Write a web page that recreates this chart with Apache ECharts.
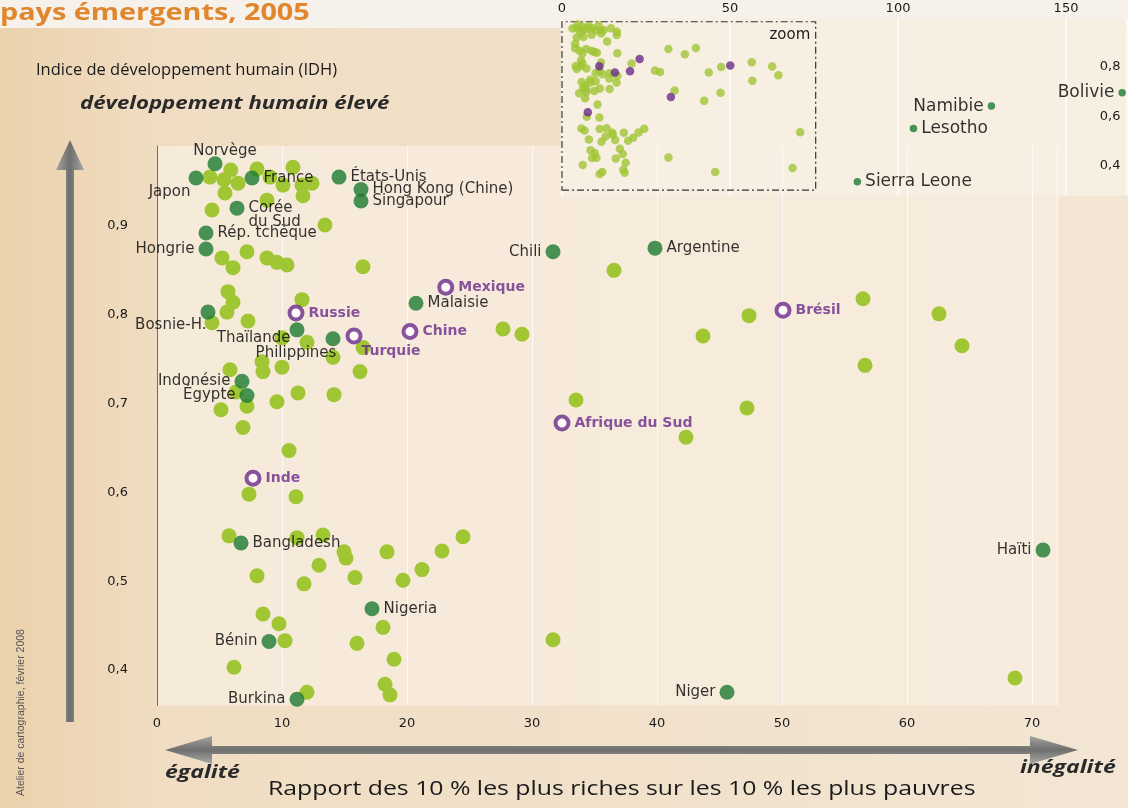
<!DOCTYPE html>
<html><head><meta charset="utf-8">
<script src="https://cdn.jsdelivr.net/npm/echarts@6/dist/echarts.min.js"></script>
<style>html,body{margin:0;padding:0;background:#efdcc0;}#c{width:1128px;height:808px;}</style>
</head><body><div id="c"></div>
<script>
// ---------- DATA ----------
const xTicks = [0, 10, 20, 30, 40, 50, 60, 70];
const yTicks = [0.4, 0.5, 0.6, 0.7, 0.8, 0.9];
const insetXTicks = [0, 50, 100, 150];
const insetYTicks = [0.4, 0.6, 0.8];

// unlabeled countries (light green)
const lightX = [4.24,5.36,6.48,8.0,9.04,10.08,10.88,11.6,12.4,5.44,8.8,11.68,4.4,13.44,5.9,
  5.2,6.08,7.2,8.8,9.6,10.4,16.48,5.68,6.08,5.6,11.6,7.28,4.4,10.0,12.0,16.48,14.08,8.4,10.0,5.84,16.24,8.48,
  36.56,56.48,47.36,62.56,43.68,64.4,56.64,33.52,47.2,42.32,27.68,29.2,
  6.32,11.28,14.16,9.6,7.2,5.12,6.88,10.56,7.36,11.12,5.76,11.2,13.28,14.96,15.12,18.4,22.8,24.48,
  12.96,21.2,8.0,15.84,11.76,19.68,8.48,9.76,18.08,10.24,16.0,31.68,6.16,18.96,12.0,18.24,18.64,68.64];
const lightY = [0.955,0.952,0.948,0.964,0.955,0.946,0.966,0.946,0.948,0.937,0.929,0.934,0.918,0.901,0.963,
  0.864,0.853,0.871,0.864,0.859,0.856,0.854,0.826,0.814,0.803,0.817,0.793,0.791,0.774,0.769,0.763,0.752,0.747,0.741,0.738,0.736,0.736,
  0.850,0.818,0.799,0.801,0.776,0.765,0.743,0.704,0.695,0.662,0.784,0.778,
  0.713,0.712,0.710,0.702,0.697,0.693,0.673,0.647,0.598,0.595,0.551,0.549,0.552,0.533,0.526,0.533,0.534,0.550,
  0.518,0.513,0.506,0.504,0.497,0.501,0.463,0.452,0.448,0.433,0.430,0.434,0.403,0.412,0.375,0.384,0.372,0.391];

// named countries (dark green)
const darkNames = ['Norvège','Japon','France','États-Unis','Hong Kong (Chine)','Singapour','Corée du Sud',
  'Rép. tchèque','Hongrie','Chili','Argentine','Malaisie','Bosnie-H.','Thaïlande','Philippines',
  'Indonésie','Égypte','Bangladesh','Nigeria','Bénin','Burkina','Niger','Haïti'];
const darkX = [4.64,3.12,7.6,14.56,16.32,16.32,6.4,3.92,3.92,31.68,39.84,20.72,4.08,11.2,14.08,
  6.8,7.2,6.72,17.2,8.96,11.2,45.6,70.88];
const darkY = [0.970,0.954,0.954,0.955,0.941,0.928,0.920,0.892,0.874,0.871,0.875,0.813,0.803,0.783,0.773,
  0.725,0.709,0.543,0.469,0.432,0.367,0.375,0.535];

// emerging countries (purple rings)
const emergNames = ['Russie','Turquie','Chine','Mexique','Brésil','Afrique du Sud','Inde'];
const emergX = [11.12,15.76,20.24,23.1,50.08,32.4,7.68];
const emergY = [0.802,0.776,0.781,0.831,0.805,0.678,0.616];

// inset-only outliers
const outNames = ['Bolivie','Namibie','Lesotho','Sierra Leone'];
const outX = [166.7,127.8,104.6,87.9];
const outY = [0.695,0.641,0.551,0.336];

// extent of the "zoom" frame in the inset
const zoomBox = [[0, 0.302], [75.5, 0.981]];

// ---------- STYLE ----------
const FONT = 'DejaVu Sans';
const LIGHT = '#a0c634', DARK = '#1b7a31', PURPLE = '#6a2b8c';
const labelCfg = {
  'Norvège': {position:'top', offset:[10,6]},
  'Japon': {position:'left', offset:[6,14]},
  'Corée du Sud': {position:'right', offset:[0,7], formatter:'Corée\ndu Sud'},
  'Hongrie': {position:'left'},
  'Chili': {position:'left'},
  'Bosnie-H.': {position:'left', offset:[10,13]},
  'Thaïlande': {position:'left', offset:[5,8]},
  'Philippines': {position:'bottom', offset:[-37,-4]},
  'Turquie': {position:'bottom', offset:[37,-4]},
  'Indonésie': {position:'left'},
  'Égypte': {position:'left'},
  'Bénin': {position:'left'},
  'Burkina': {position:'left'},
  'Niger': {position:'left'},
  'Haïti': {position:'left'},
  'Bolivie': {position:'left'},
  'Namibie': {position:'left'}
};
function lab(name, extra){
  const c = labelCfg[name] || {position:'right'};
  return Object.assign({show:true, distance:4, formatter: c.formatter || name,
    position:c.position, offset:c.offset || [0,0]}, extra);
}
const comma = v => (Math.round(v*10)/10).toFixed(1).replace('.', ',');

const lightPts = lightX.map((x,i)=>[x, lightY[i]]);
const darkPts = darkX.map((x,i)=>({name:darkNames[i], value:[x, darkY[i]],
  label: lab(darkNames[i], {color:'#000', fontSize:15, fontFamily:FONT, lineHeight:14})}));
const emergPts = emergX.map((x,i)=>({name:emergNames[i], value:[x, emergY[i]],
  label: lab(emergNames[i], {color:PURPLE, fontSize:14, fontWeight:'bold', fontFamily:FONT})}));
const insetBase = lightPts.concat(darkX.map((x,i)=>[x, darkY[i]]));
const insetEmerg = emergX.map((x,i)=>[x, emergY[i]]);
const outPts = outX.map((x,i)=>({name:outNames[i], value:[x, outY[i]],
  label: lab(outNames[i], {color:'#000', fontSize:17, fontFamily:FONT, distance:4})}));

const gray = {type:'linear', x:0, y:0, x2:0, y2:1, colorStops:[{offset:0,color:'#a3a3a0'},{offset:0.5,color:'#6f706e'},{offset:1,color:'#a8a8a5'}]};
const grayV = {type:'linear', x:0, y:0, x2:1, y2:0, colorStops:[{offset:0,color:'#a3a3a0'},{offset:0.5,color:'#6f706e'},{offset:1,color:'#a8a8a5'}]};

const chart = echarts.init(document.getElementById('c'), null, {renderer:'canvas'});
chart.setOption({
  animation:false,
  backgroundColor:{type:'linear', x:0, y:0, x2:1, y2:0, colorStops:[{offset:0,color:'#ebd2ad'},{offset:0.15,color:'#f0ddc3'},{offset:1,color:'#f3e6d4'}]},
  textStyle:{fontFamily:FONT},
  graphic:[
    {type:'rect', z:-10, shape:{x:0,y:0,width:1128,height:28}, style:{fill:'#f6f1ea'}},
    {type:'text', x:0, y:1, scaleX:1.2, style:{text:'pays émergents, 2005', fill:'#e0862c', font:'bold 24px "Open Sans"'}},
    {type:'text', x:36, y:62, style:{text:'Indice de développement humain (IDH)', fill:'#1a1a1a', font:'16.5px "Open Sans"'}},
    {type:'text', x:80, y:94, scaleX:1.2, style:{text:'développement humain élevé', fill:'#2a2a2a', font:'italic bold 18.5px "Open Sans"'}},
    {type:'text', x:165, y:764, scaleX:1.28, style:{text:'égalité', fill:'#2a2a2a', font:'italic bold 18px "Open Sans"'}},
    {type:'text', x:1020, y:759, scaleX:1.28, style:{text:'inégalité', fill:'#2a2a2a', font:'italic bold 18px "Open Sans"'}},
    {type:'text', x:268, y:779, scaleX:1.24, style:{text:'Rapport des 10 % les plus riches sur les 10 % les plus pauvres', fill:'#1a1a1a', font:'20px "Open Sans"'}},
    {type:'text', x:16, y:796, rotation:Math.PI/2, style:{text:'Atelier de cartographie, février 2008', fill:'#555', font:'10.5px "Liberation Sans Narrow", "Liberation Sans"'}},
    // vertical arrow (up)
    {type:'polygon', shape:{points:[[70,140],[84,170],[74,170],[74,722],[66,722],[66,170],[56,170]]}, style:{fill:grayV}},
    // horizontal double arrow
    {type:'polygon', shape:{points:[[165,750],[212,736],[212,746],[1030,746],[1030,736],[1078,750],[1030,764],[1030,754],[212,754],[212,764]]}, style:{fill:gray}}
  ],
  grid:[
    {left:157, right:71, top:146, bottom:102.5, show:true, backgroundColor:'rgba(248,238,224,0.75)', borderWidth:0},
    {left:562, right:1.5, top:18.3, bottom:612.4, show:true, backgroundColor:'#f8efe3', borderWidth:0}
  ],
  xAxis:[
    {type:'value', gridIndex:0, min:0, max:72, interval:10,
      axisLine:{show:false}, axisTick:{show:false},
      splitLine:{show:true, lineStyle:{color:'rgba(255,255,255,0.75)', width:1}},
      axisLabel:{customValues:xTicks, color:'#1a1a1a', fontSize:13, margin:12, fontFamily:FONT}},
    {type:'value', gridIndex:1, min:0, max:168, interval:50, position:'top',
      axisLine:{show:false}, axisTick:{show:false},
      splitLine:{show:true, lineStyle:{color:'rgba(255,255,255,0.9)', width:1.5}},
      axisLabel:{customValues:insetXTicks, color:'#1a1a1a', fontSize:13, margin:3, fontFamily:FONT}}
  ],
  yAxis:[
    {type:'value', gridIndex:0, min:0.36, max:0.99,
      axisLine:{show:true, lineStyle:{color:'#6e6e6e', width:1}}, axisTick:{show:false},
      splitLine:{show:false},
      axisLabel:{customValues:yTicks, formatter:comma, color:'#1a1a1a', fontSize:13, margin:29, fontFamily:FONT}},
    {type:'value', gridIndex:1, min:0.28, max:0.995, position:'right',
      axisLine:{show:false}, axisTick:{show:false}, splitLine:{show:false},
      axisLabel:{customValues:insetYTicks, formatter:comma, inside:true, color:'#1a1a1a', fontSize:13, margin:6, fontFamily:FONT}}
  ],
  series:[
    {type:'scatter', xAxisIndex:0, yAxisIndex:0, symbolSize:15, itemStyle:{color:LIGHT, opacity:1}, data:lightPts, z:2},
    {type:'scatter', xAxisIndex:0, yAxisIndex:0, symbolSize:15, itemStyle:{color:DARK}, data:darkPts, z:3},
    {type:'scatter', xAxisIndex:0, yAxisIndex:0, symbolSize:13, itemStyle:{color:'#fff', borderColor:PURPLE, borderWidth:4}, data:emergPts, z:4},
    {type:'scatter', xAxisIndex:1, yAxisIndex:1, symbolSize:8.5, itemStyle:{color:LIGHT}, data:insetBase, z:2,
      markArea:{silent:true, itemStyle:{color:'rgba(0,0,0,0)', borderColor:'#333', borderWidth:1.2, borderType:[7,3,2,3]},
        label:{show:true, position:'insideTopRight', formatter:'zoom', color:'#1a1a1a', fontSize:15, fontFamily:FONT, distance:6},
        data:[[{coord:zoomBox[0]},{coord:zoomBox[1]}]]}},
    {type:'scatter', xAxisIndex:1, yAxisIndex:1, symbolSize:8.5, itemStyle:{color:PURPLE}, data:insetEmerg, z:3},
    {type:'scatter', xAxisIndex:1, yAxisIndex:1, symbolSize:7.5, itemStyle:{color:DARK}, data:outPts, z:3}
  ]
});
</script></body></html>
